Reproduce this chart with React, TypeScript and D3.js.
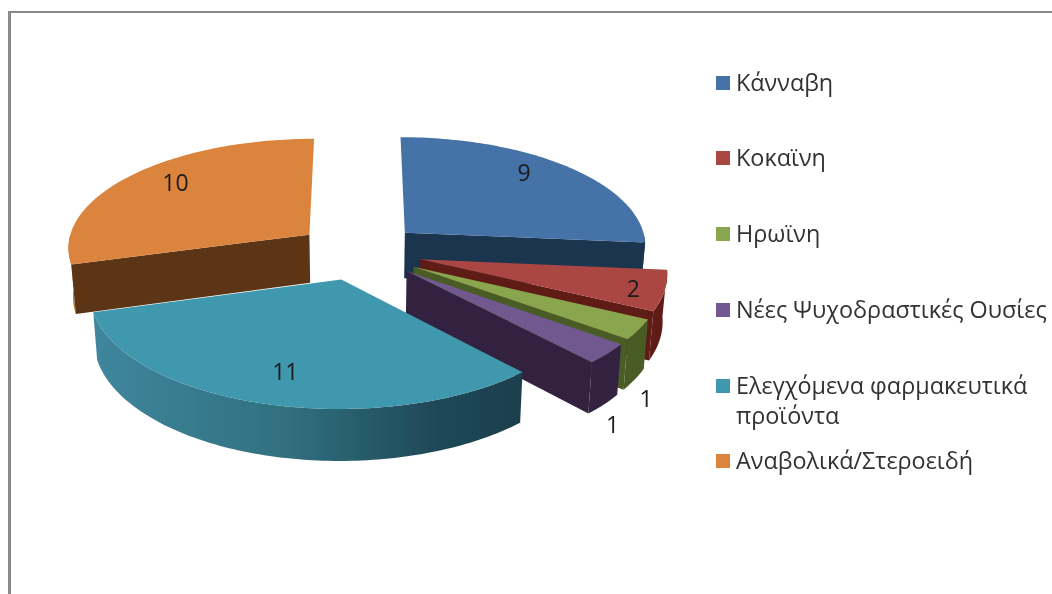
import React from "react";
import * as d3 from "d3";

const categories = ["Κάνναβη", "Κοκαϊνη", "Ηρωϊνη", "Νέες Ψυχοδραστικές Ουσίες", "Ελεγχόμενα φαρμακευτικά προϊόντα", "Αναβολικά/Στεροειδή"];
const legendLines = [["Κάνναβη"], ["Κοκαϊνη"], ["Ηρωϊνη"], ["Νέες Ψυχοδραστικές Ουσίες"], ["Ελεγχόμενα φαρμακευτικά", "προϊόντα"], ["Αναβολικά/Στεροειδή"]];
const values = [9, 2, 1, 1, 11, 10];
const topColors = ["#4572a7", "#aa4643", "#89a54e", "#71588f", "#4198af", "#db843d"];
const wallColors = ["#1a3450", "#5f1a18", "#4a5c26", "#32243f", "url(#tealRim)", "#5b3516"];
const rimColors = ["#1a3450", "#5f1a18", "#4a5c26", "#32243f", "url(#tealRim)", "#b8702f"];

// projection constants
const CX = 359, CY = 251.5, R = 243, TILT = 0.45, D = 2300, H = 46.5, EXPLODE = 0.26, BOTTOM_SHRINK = 0.985;
const wallScale = [1, 1, 1, 1, 0.97, 1.05];
const legendX = 716, legendTextX = 736;
const legendY = [83, 158, 234, 310, 386, 461];
// data-label placement: radial fraction, wall level, pixel nudges
const labelR = [0.8, 0.875, 1.12, 1.12, 0.76, 0.8];
const labelZ = [0, 0, 1, 1, 0, 0];
const labelDx = [-12, 0, -17, -17, 2, 9];
const labelDy = [-6, 2, 11, 9, 1, -3];

const arcs = d3.pie<number>().sort(null)(values);

function project(mid: number, theta: number, r: number, z: number): [number, number] {
  const wx = R * (EXPLODE * Math.sin(mid) + r * Math.sin(theta));
  const wy = R * (-EXPLODE * Math.cos(mid) - r * Math.cos(theta));
  const s = D / (D - wy);
  const k = 1 - (1 - BOTTOM_SHRINK) * z;
  return [CX + wx * s * k, CY + TILT * wy * s + H * z * s];
}

const line = d3.line<[number, number]>();
const sample = (a: number, b: number) => {
  const n = Math.max(2, Math.ceil((b - a) / 0.02));
  return d3.range(n + 1).map((i) => a + ((b - a) * i) / n);
};

function topPath(mid: number, a: number, b: number) {
  const pts = [project(mid, 0, 0, 0), ...sample(a, b).map((t) => project(mid, t, 1, 0))];
  return line(pts) + "Z";
}
function rimPath(mid: number, a: number, b: number, z: number) {
  const lo = Math.max(a, Math.PI / 2), hi = Math.min(b, (3 * Math.PI) / 2);
  if (hi <= lo) return null;
  const ts = sample(lo, hi);
  const pts = [...ts.map((t) => project(mid, t, 1, 0)), ...ts.slice().reverse().map((t) => project(mid, t, 1, z))];
  return line(pts) + "Z";
}
function cutPath(mid: number, t: number, z: number) {
  return line([project(mid, 0, 0, 0), project(mid, t, 1, 0), project(mid, t, 1, z), project(mid, 0, 0, z)]) + "Z";
}

// back-to-front painting order
const paintOrder = [5, 0, 1, 2, 3, 4];
const FONT = "'Open Sans', 'Noto Sans', sans-serif";

export default function App() {
  return (
    <svg width={1052} height={594} style={{ position: "absolute", left: 0, top: 0, background: "#fff" }}>
      <defs>
        <linearGradient id="tealRim" gradientUnits="userSpaceOnUse" x1={95} x2={523} y1={0} y2={0}>
          <stop offset="0" stopColor="#3f869d" />
          <stop offset="0.45" stopColor="#30707f" />
          <stop offset="0.8" stopColor="#1f4857" />
          <stop offset="1" stopColor="#1b3f4c" />
        </linearGradient>
        <filter id="soft" x="-5%" y="-5%" width="110%" height="110%">
          <feGaussianBlur stdDeviation="0.45" />
        </filter>
      </defs>
      <rect x={8} y={11} width={1044} height={2} fill="#8a8a8a" />
      <rect x={8} y={11} width={3} height={583} fill="#8a8a8a" />
      <g filter="url(#soft)">
        {paintOrder.map((i) => {
          const d = arcs[i];
          const mid = (d.startAngle + d.endAngle) / 2;
          const z = wallScale[i];
          const rim = rimPath(mid, d.startAngle, d.endAngle, z);
          const startVisible = d.startAngle > Math.PI;
          const endVisible = d.endAngle < Math.PI;
          return (
            <g key={categories[i]}>
              {rim && <path d={rim} fill={rimColors[i]} />}
              {startVisible && <path d={cutPath(mid, d.startAngle, z)} fill={wallColors[i]} />}
              {endVisible && <path d={cutPath(mid, d.endAngle, z)} fill={wallColors[i]} />}
              <path d={topPath(mid, d.startAngle, d.endAngle)} fill={topColors[i]} />
            </g>
          );
        })}
        {arcs.map((d, i) => {
          const mid = (d.startAngle + d.endAngle) / 2;
          const [x, y] = project(mid, mid, labelR[i], labelZ[i]);
          return (
            <text key={i} x={x + labelDx[i]} y={y + labelDy[i]} dy="0.35em" textAnchor="middle" fontFamily={FONT} fontSize={23} fill="#1a1a1a">
              {values[i]}
            </text>
          );
        })}
        {legendLines.map((lines, i) => (
          <g key={i}>
            <rect x={legendX} y={legendY[i] - 7} width={14} height={14} fill={topColors[i]} />
            {lines.map((l, j) => (
              <text key={j} x={legendTextX} y={legendY[i] + j * 30} dy="0.35em" fontFamily={FONT} fontSize={23.4} fill="#333">
                {l}
              </text>
            ))}
          </g>
        ))}
      </g>
    </svg>
  );
}
